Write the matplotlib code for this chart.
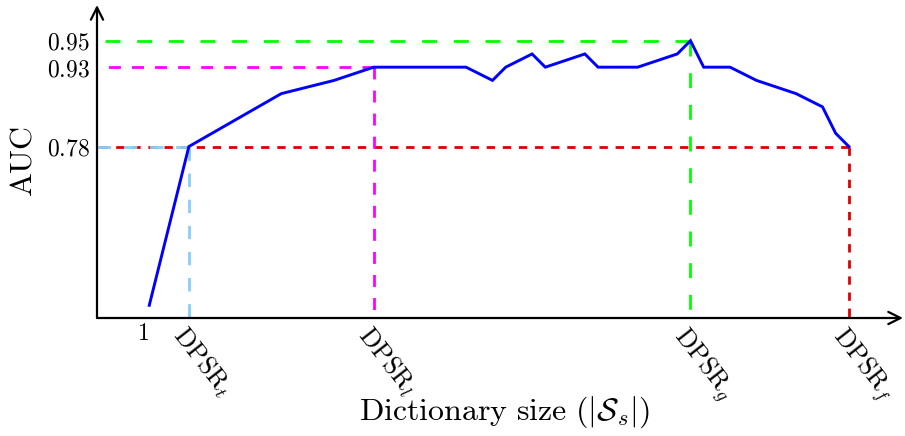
import numpy as np
import matplotlib
matplotlib.use("Agg")
import matplotlib.pyplot as plt

plt.rcParams['mathtext.fontset'] = 'cm'
plt.rcParams['font.family'] = ['serif']

# ---- data ----
dict_size = [1, 4, 11, 15, 18, 25, 27, 28, 30, 31, 34, 35, 38, 41, 42, 43, 45, 47, 50, 52, 53, 54]
auc = [0.48, 0.78, 0.88, 0.905, 0.93, 0.93, 0.905, 0.93, 0.94, 0.93, 0.94, 0.93, 0.93,
       0.94, 0.95, 0.93, 0.93, 0.905, 0.88, 0.855, 0.805, 0.78]

ref_names = [r'$\mathrm{DPSR}_t$', r'$\mathrm{DPSR}_l$', r'$\mathrm{DPSR}_g$', r'$\mathrm{DPSR}_f$']
ref_x = [4, 18, 42, 54]
ref_auc = [0.78, 0.93, 0.95, 0.78]
ref_colors = ['#87cefa', '#ff00ff', '#00ff00', '#dd0000']
ref_dashes = [(4.8, 4.6), (4.3, 4.0), (5.4, 6.0), (3.0, 2.8)]

ytick_vals = [0.78, 0.93, 0.95]
ytick_labels = [r'$0.78$', r'$0.93$', r'$0.95$']

# non-linear (schematic) AUC axis
auc_anchor = [0.0, 0.78, 0.93, 0.95, 1.2]
lvl_anchor = [-31.2, 0.0, 6.0, 8.0, 33.0]
fwd = lambda a: np.interp(a, auc_anchor, lvl_anchor)
inv = lambda l: np.interp(l, lvl_anchor, auc_anchor)

W, H = 905, 436
fig = plt.figure(figsize=(W / 100, H / 100), dpi=100)
ax = fig.add_axes([97 / W, (H - 318) / H, (903 - 97) / W, (318 - 5) / H])
ax.set_yscale('function', functions=(fwd, inv))
ax.set_xlim(-2.96, 58.1)
ax.set_ylim(0.456, 0.977)

for s in ax.spines.values():
    s.set_visible(False)

# reference dashed lines (red first so light blue lies on top)
order = [3, 1, 2, 0]
for i in order:
    x0, y0 = ref_x[i], ref_auc[i]
    ax.plot([x0, -2.96], [y0, y0], color=ref_colors[i], lw=2.0,
            dashes=ref_dashes[i], zorder=2, clip_on=False)
    ax.plot([x0, x0], [y0, 0.456], color=ref_colors[i], lw=2.0,
            dashes=ref_dashes[i], zorder=2, clip_on=False)

ax.plot(dict_size, auc, color='#0000ff', lw=2.1, zorder=4, solid_joinstyle='miter')

# axes with arrows
arrow = dict(arrowstyle='->', lw=1.6, color='black', mutation_scale=22, shrinkA=0, shrinkB=0)
ax.annotate('', xy=(1.0, 0), xytext=(0, 0), xycoords='axes fraction',
            textcoords='axes fraction', arrowprops=arrow, zorder=5)
ax.annotate('', xy=(0, 1.0), xytext=(0, 0), xycoords='axes fraction',
            textcoords='axes fraction', arrowprops=arrow, zorder=5)

ax.set_yticks(ytick_vals)
ax.set_yticklabels(ytick_labels, fontsize=17)
ax.yaxis.set_minor_locator(matplotlib.ticker.NullLocator())
ax.tick_params(axis='y', length=0, pad=5)

ax.set_xticks([1] + ref_x)
ax.set_xticklabels([r'$1$'] + ref_names, fontsize=17)
ax.tick_params(axis='x', length=0, pad=3)
labels = ax.get_xticklabels()
labels[0].set_ha('right')
for lab in labels[1:]:
    lab.set_fontsize(18.5)
    lab.set_rotation(-52)
    lab.set_rotation_mode('anchor')
    lab.set_ha('left')
    lab.set_va('top')

ax.set_ylabel(r'$\mathrm{AUC}$', fontsize=23, labelpad=6)
ax.set_xlabel(r'$\mathrm{Dictionary\ size\ }(|\mathcal{S}_s|)$', fontsize=23)
ax.xaxis.set_label_coords(0.505, -0.245)

fig.savefig('out.png', dpi=100)
